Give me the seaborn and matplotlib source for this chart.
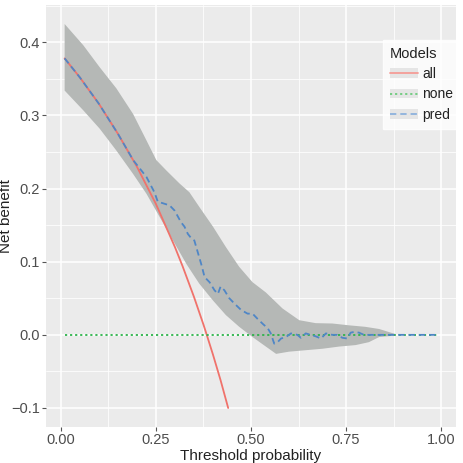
import numpy as np
import pandas as pd
import matplotlib
matplotlib.use("Agg")
import matplotlib.pyplot as plt
import seaborn as sns
from matplotlib.lines import Line2D
from matplotlib.patches import Patch
from matplotlib.ticker import MultipleLocator

# ---- data ----
all_x = [0.01, 0.05, 0.10, 0.15, 0.20, 0.25, 0.30, 0.32, 0.35, 0.375, 0.38, 0.40, 0.42, 0.44]
all_y = [0.378, 0.352, 0.316, 0.275, 0.230, 0.179, 0.120, 0.094, 0.052, 0.014, 0.006, -0.027, -0.062, -0.100]

none_x = [0.01, 0.99]
none_y = [0.0, 0.0]

pred_x = [0.01, 0.05, 0.10, 0.15, 0.19, 0.225, 0.246, 0.255, 0.268, 0.286, 0.299, 0.316, 0.325,
          0.334, 0.343, 0.351, 0.360, 0.369, 0.378, 0.391, 0.404, 0.413, 0.420, 0.430, 0.443,
          0.456, 0.474, 0.491, 0.504, 0.517, 0.531, 0.544, 0.552, 0.561, 0.570, 0.579, 0.592,
          0.605, 0.622, 0.631, 0.644, 0.657, 0.670, 0.684, 0.697, 0.714, 0.727, 0.740, 0.753,
          0.762, 0.771, 0.784, 0.797, 0.85, 0.90, 0.99]
pred_y = [0.378, 0.352, 0.316, 0.275, 0.239, 0.216, 0.195, 0.182, 0.180, 0.177, 0.170, 0.154, 0.148,
          0.138, 0.132, 0.129, 0.113, 0.097, 0.079, 0.072, 0.061, 0.056, 0.066, 0.061, 0.050,
          0.043, 0.034, 0.029, 0.029, 0.022, 0.015, 0.009, 0.002, -0.012, -0.010, -0.005, -0.003,
          0.002, 0.000, -0.004, 0.002, 0.000, -0.002, -0.005, 0.002, 0.000, 0.000, -0.004, -0.005,
          0.003, 0.004, 0.003, 0.000, 0.0, 0.0, 0.0]

band_up_x = [0.01, 0.059, 0.102, 0.146, 0.19, 0.225, 0.251, 0.277, 0.312, 0.338, 0.364, 0.40,
             0.434, 0.469, 0.504, 0.539, 0.583, 0.627, 0.670, 0.714, 0.758, 0.80, 0.837, 0.88]
band_up_y = [0.425, 0.396, 0.366, 0.337, 0.302, 0.266, 0.239, 0.225, 0.207, 0.195, 0.175, 0.148,
             0.120, 0.093, 0.072, 0.058, 0.036, 0.020, 0.016, 0.0155, 0.013, 0.011, 0.008, 0.001]
band_lo_x = [0.01, 0.059, 0.102, 0.146, 0.19, 0.225, 0.26, 0.295, 0.33, 0.364, 0.40, 0.434,
             0.469, 0.504, 0.539, 0.566, 0.60, 0.644, 0.688, 0.732, 0.775, 0.81, 0.837, 0.88]
band_lo_y = [0.334, 0.307, 0.282, 0.252, 0.220, 0.193, 0.161, 0.129, 0.097, 0.070, 0.047, 0.027,
             0.011, -0.003, -0.016, -0.026, -0.023, -0.021, -0.019, -0.016, -0.014, -0.010, -0.003, -0.001]

models = ["all", "none", "pred"]
colors = {"all": "#F0726B", "none": "#2DB34A", "pred": "#4F86C6"}
legend_colors = {"all": "#F59C97", "none": "#6CCB7C", "pred": "#8DB2DD"}
styles = {"all": "-", "none": (0, (1.2, 1.6)), "pred": (0, (3.5, 2.2))}

df = pd.concat([
    pd.DataFrame({"x": all_x, "y": all_y, "Models": "all"}),
    pd.DataFrame({"x": none_x, "y": none_y, "Models": "none"}),
    pd.DataFrame({"x": pred_x, "y": pred_y, "Models": "pred"}),
], ignore_index=True)

sns.set_theme(style="darkgrid")
plt.rcParams["font.family"] = ["Liberation Sans", "DejaVu Sans"]

fig = plt.figure(figsize=(4.63, 4.63), dpi=100)
ax = fig.add_axes([46 / 463, 1 - 427 / 463, 410 / 463, 422 / 463])
ax.set_facecolor("#EBEBEB")

# confidence band
poly_x = band_up_x + band_lo_x[::-1]
poly_y = band_up_y + band_lo_y[::-1]
ax.fill(poly_x, poly_y, color="#B5B8B6", lw=0, zorder=2)

for m in models:
    sub = df[df["Models"] == m]
    sns.lineplot(data=sub, x="x", y="y", ax=ax, color=colors[m], lw=1.3,
                 linestyle=styles[m], legend=False, sort=False, estimator=None, zorder=3)

ax.set_xlim(-0.039, 1.039)
ax.set_ylim(-0.126, 0.451)
ax.xaxis.set_major_locator(MultipleLocator(0.25))
ax.xaxis.set_minor_locator(MultipleLocator(0.125))
ax.yaxis.set_major_locator(MultipleLocator(0.1))
ax.yaxis.set_minor_locator(MultipleLocator(0.05))
ax.set_xticks([0, 0.25, 0.5, 0.75, 1.0])
ax.set_xticklabels(["0.00", "0.25", "0.50", "0.75", "1.00"])
ax.set_yticks([-0.1, 0.0, 0.1, 0.2, 0.3, 0.4])
ax.set_yticklabels(["\u22120.1", "0.0", "0.1", "0.2", "0.3", "0.4"])
ax.grid(which="major", color="white", lw=1.1)
ax.grid(which="minor", color="white", lw=0.55)
ax.tick_params(which="major", length=3, width=0.8, color="#555555", labelsize=10.5,
               labelcolor="#4D4D4D", pad=1.5, bottom=True, left=True)
ax.tick_params(which="minor", length=0)
for s in ax.spines.values():
    s.set_visible(False)

ax.set_xlabel("Threshold probability", fontsize=11, color="#222222")
ax.set_ylabel("Net benefit", fontsize=11, color="#222222")
ax.xaxis.set_label_coords(0.5, -0.053)
ax.yaxis.set_label_coords(-0.080, 0.5)

handles = []
for m in models:
    handles.append((Patch(facecolor="#E5E5E5", edgecolor="none"),
                    Line2D([0], [0], color=legend_colors[m], lw=1.3, linestyle=styles[m])))
leg = ax.legend(handles, models, title="Models", loc="upper left",
                bbox_to_anchor=(337 / 410, (427 - 40) / 422), frameon=True,
                fontsize=10, title_fontsize=10.5, handlelength=2.0, handletextpad=0.3,
                borderpad=0.5, labelspacing=0.45, borderaxespad=0, fancybox=False)
leg.get_frame().set_facecolor("white")
leg.get_frame().set_edgecolor("white")
leg._legend_box.align = "left"
for t in leg.get_texts():
    t.set_color("#222222")
leg.get_title().set_color("#222222")

fig.savefig("out.png", dpi=100)
